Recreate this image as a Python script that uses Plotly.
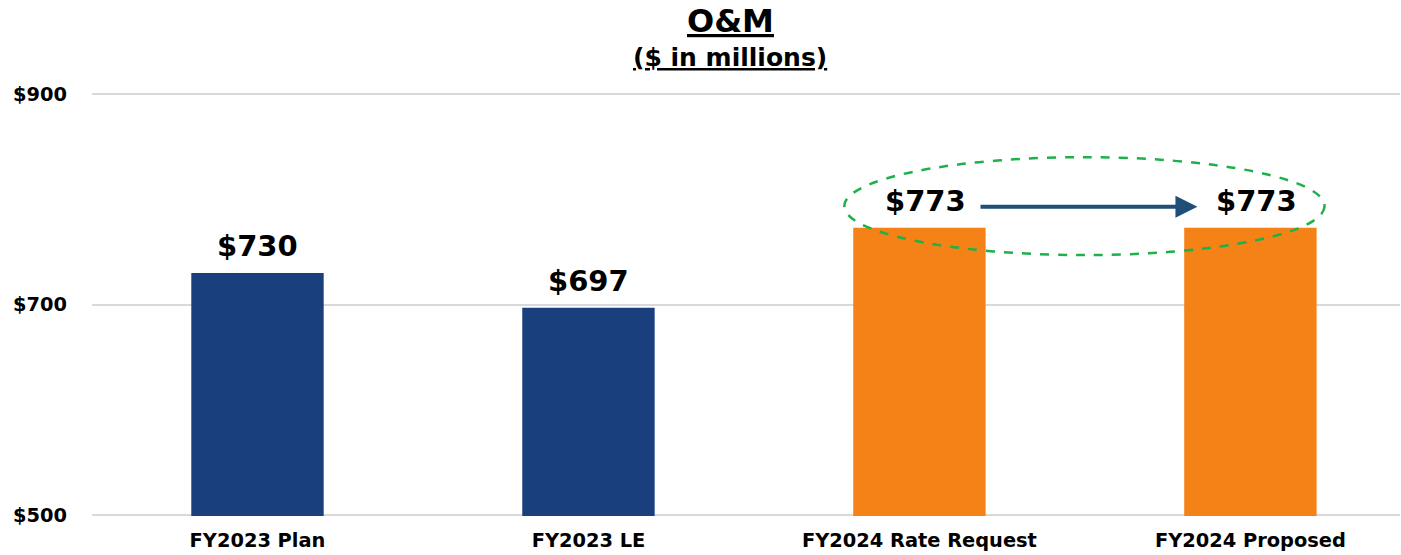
import plotly.graph_objects as go

categories = ["FY2023 Plan", "FY2023 LE", "FY2024 Rate Request", "FY2024 Proposed"]
values = [730, 697, 773, 773]
bar_colors = ["#193F7D", "#193F7D", "#F58216", "#F58216"]
value_labels = ["$730", "$697", "$773", "$773"]
y_ticks = [500, 700, 900]
y_tick_labels = ["$500", "$700", "$900"]

FONT = "Verdana, DejaVu Sans, sans-serif"

W, H = 1401, 555
ML, MR, MT, MB = 92, 1, 93, 39
PH = H - MT - MB
PW = W - ML - MR
TITLE_X = (730 - ML) / PW

fig = go.Figure()
fig.add_trace(go.Bar(
    x=list(range(len(categories))),
    y=values,
    marker=dict(color=bar_colors, line=dict(width=0)),
    width=0.4,
    hoverinfo="skip",
))

annotations = []
for i, (v, lab) in enumerate(zip(values, value_labels)):
    annotations.append(dict(
        x=i, y=v, xref="x", yref="y", text=f"<b>{lab}</b>",
        showarrow=False, yanchor="middle", yshift=27,
        xshift=6 if i >= 2 else 0,
        font=dict(family=FONT, size=29, color="#000000"),
    ))

# arrow between the two FY2024 labels
arrow_y = values[2] + 20
annotations.append(dict(
    x=2.84, y=arrow_y, ax=2.18, ay=arrow_y,
    xref="x", yref="y", axref="x", ayref="y",
    text="", showarrow=True, arrowhead=2, arrowsize=1.1, arrowwidth=4,
    arrowcolor="#1F4E79",
))

annotations.append(dict(
    x=TITLE_X, y=1 + (MT - 21) / PH, xref="paper", yref="paper", yanchor="middle",
    text="<b><span style='text-decoration:underline'>O&M</span></b>",
    showarrow=False, font=dict(family=FONT, size=32, color="#000000"),
))
annotations.append(dict(
    x=TITLE_X, y=1 + (MT - 57) / PH, xref="paper", yref="paper", yanchor="middle",
    text="<b><span style='text-decoration:underline'>($ in millions)</span></b>",
    showarrow=False, font=dict(family=FONT, size=25, color="#000000"),
))

fig.update_layout(
    width=W, height=H,
    margin=dict(l=ML, r=MR, t=MT, b=MB, pad=0),
    paper_bgcolor="white", plot_bgcolor="white",
    showlegend=False,
    annotations=annotations,
    font=dict(family=FONT, color="#000000"),
    shapes=[dict(
        type="circle", xref="x", yref="y",
        x0=1.773, x1=3.224, y0=values[2] - 26, y1=values[2] + 67,
        line=dict(color="#1DB04B", width=2.5, dash="dash"),
        fillcolor="rgba(0,0,0,0)", layer="above",
    )],
    xaxis=dict(
        range=[-0.5, 3.452], tickvals=list(range(len(categories))),
        ticktext=[f"<b>{c}</b>" for c in categories],
        tickfont=dict(family=FONT, size=19.4, color="#000000"),
        showgrid=False, zeroline=False, showline=False, ticks="",
        ticklabelstandoff=11,
    ),
    yaxis=dict(
        range=[499, 901], tickvals=y_ticks,
        ticktext=[f"<b>{t}</b>" for t in y_tick_labels],
        tickfont=dict(family=FONT, size=19.4, color="#000000"),
        showgrid=True, gridcolor="#D9D9D9", gridwidth=2,
        zeroline=False, showline=False, ticks="",
        ticklabelstandoff=24,
    ),
)

fig.write_html(
    "out.html",
    config={"displayModeBar": False, "staticPlot": True},
    post_script="document.body.style.margin='0';document.body.style.overflow='hidden';",
)
